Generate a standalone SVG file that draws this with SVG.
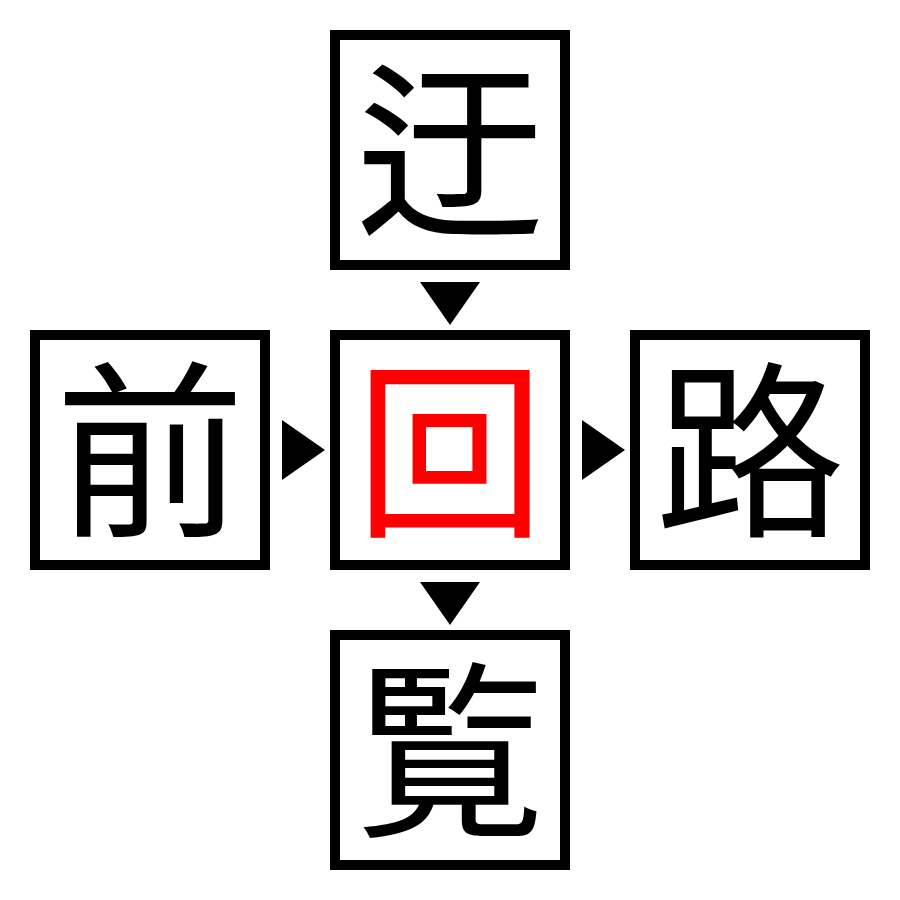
<svg xmlns="http://www.w3.org/2000/svg" width="900" height="900" viewBox="0 0 900 900">
<style>
.box{fill:#fff;stroke:#000;stroke-width:10}
.ch{font-family:"Noto Sans CJK JP","Noto Sans CJK SC",sans-serif;font-size:190px;text-anchor:middle;fill:#000}
.red{fill:#ff0000}
.arr{fill:#000}
</style>
<rect width="900" height="900" fill="#fff"/>
<g id="n-top"><rect class="box" x="335" y="35" width="230" height="230"/><text class="ch" x="450" y="222">迂</text></g>
<g id="n-left"><rect class="box" x="35" y="335" width="230" height="230"/><text class="ch" x="150" y="522">前</text></g>
<g id="n-center"><rect class="box" x="335" y="335" width="230" height="230"/><text class="ch red" x="450" y="522">回</text></g>
<g id="n-right"><rect class="box" x="635" y="335" width="230" height="230"/><text class="ch" x="750" y="522">路</text></g>
<g id="n-bottom"><rect class="box" x="335" y="635" width="230" height="230"/><text class="ch" x="450" y="822">覧</text></g>
<g id="connectors">
<polygon class="arr" points="420,282 480,282 450,325"/>
<polygon class="arr" points="282,420 282,480 325,450"/>
<polygon class="arr" points="582,420 582,480 625,450"/>
<polygon class="arr" points="420,582 480,582 450,625"/>
</g>
</svg>
